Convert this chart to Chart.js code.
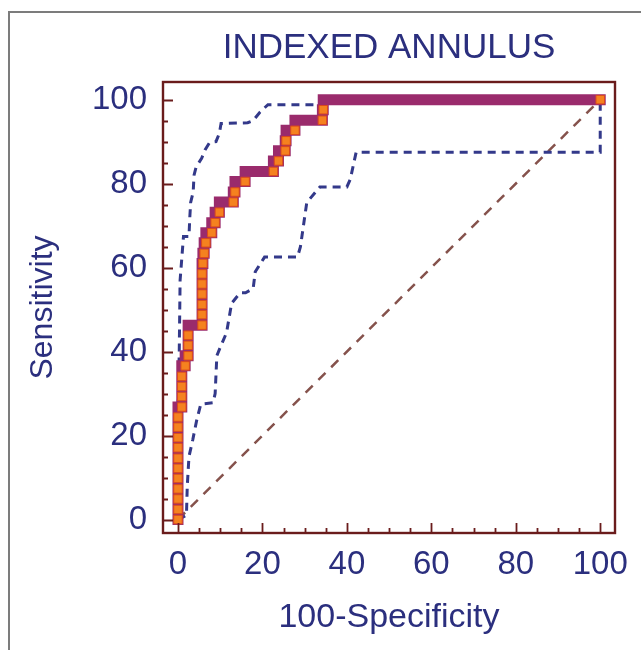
<!DOCTYPE html>
<html lang="en">
<head>
<meta charset="UTF-8">
<title>Indexed Annulus ROC</title>
<script src="https://cdn.jsdelivr.net/npm/chart.js"></script>
<style>
  body { margin: 0; background: #fff; }
  canvas { display: block; }
</style>
</head>
<body>
<canvas id="rocChart" width="641" height="650"></canvas>
<script>
  // ROC curve: 100-Specificity (x) and Sensitivity (y)
  const rocX = [0, 0, 0, 0, 0, 0, 0, 0, 0, 0, 0,
                0.9, 0.9, 0.9, 0.9, 1.7, 2.4, 2.4, 2.4,
                5.7, 5.7, 5.7, 5.7, 5.7, 5.7, 5.9, 6.2, 6.6, 8.0, 8.8, 9.8,
                13.1, 13.5, 15.9, 22.6, 23.8, 25.4, 25.6, 27.7, 34.2, 34.4, 100];
  const rocY = [0, 2.4, 4.9, 7.3, 9.8, 12.2, 14.6, 17.1, 19.5, 22.0, 24.4,
                26.8, 29.3, 31.7, 34.1, 36.6, 39.0, 41.5, 43.9,
                46.3, 48.8, 51.2, 53.7, 56.1, 58.5, 61.0, 63.4, 65.9, 68.3, 70.7, 73.2,
                75.6, 78.0, 80.5, 82.9, 85.4, 87.8, 90.2, 92.7, 95.1, 97.6, 100];

  // upper and lower confidence bounds
  const upperX = [0, 0, 0.3, 0.5, 1.3, 2.6, 2.8, 3.0, 3.6, 3.8, 4.3, 5.6, 6.4, 7.5, 9.0, 9.8, 10.2,
                  16.5, 17.8, 19.4, 21.3, 33.0, 34.5, 100];
  const upperY = [0, 25, 40, 57, 67.4, 67.4, 72, 75.5, 78, 82, 84, 86, 88, 89.8, 90, 92, 94.3,
                  94.5, 95, 97, 98.8, 98.8, 100, 100];
  const lowerX = [0, 2.0, 2.2, 2.6, 3.5, 4.4, 5.4, 8.3, 8.8, 9.2, 10.0, 11.5, 12.7, 14.7, 16.0,
                  17.8, 18.3, 20.5, 28.3, 29.0, 30.5, 33.6, 40.0, 40.8, 42.2, 100, 100];
  const lowerY = [0, 1.0, 8.0, 15.0, 19.0, 23.5, 27.5, 27.8, 30.0, 39.0, 41.0, 44.5, 51.5, 54.0, 54.0,
                  55.0, 59.0, 62.5, 62.5, 65.0, 75.5, 79.2, 79.2, 81.0, 87.5, 87.5, 100];

  // chance line
  const diagX = [0, 100];
  const diagY = [0, 100];

  const xTickLabels = [0, 20, 40, 60, 80, 100];
  const yTickLabels = [0, 20, 40, 60, 80, 100];

  const toPoints = (xs, ys) => xs.map((x, i) => ({ x: x, y: ys[i] }));

  const navy = '#2b2f7e';
  const frameColor = '#6a1c1c';
  const family = '"Liberation Sans", Arial, sans-serif';

  // outer box, frame round the plot and inward tick marks
  const framePlugin = {
    id: 'frame',
    beforeDraw(chart) {
      const ctx = chart.ctx;
      ctx.save();
      ctx.strokeStyle = '#7c7c7c';
      ctx.lineWidth = 2;
      ctx.strokeRect(9, 12, 700, 700);
      ctx.restore();
    },
    afterDatasetsDraw(chart) {
      const { ctx, chartArea: a, scales } = chart;
      ctx.save();
      ctx.strokeStyle = frameColor;
      ctx.lineWidth = 2.4;
      ctx.strokeRect(a.left, a.top, a.right - a.left, a.bottom - a.top);
      ctx.lineWidth = 1.8;
      ctx.beginPath();
      for (let v = 0; v <= 100; v += 5) {
        const len = v % 20 === 0 ? 10 : 5;
        const px = Math.round(scales.x.getPixelForValue(v)) + 0.5;
        ctx.moveTo(px, a.bottom);
        ctx.lineTo(px, a.bottom - len);
        const py = Math.round(scales.y.getPixelForValue(v)) + 0.5;
        ctx.moveTo(a.left, py);
        ctx.lineTo(a.left + len, py);
      }
      ctx.stroke();
      ctx.restore();
    }
  };

  new Chart(document.getElementById('rocChart'), {
    type: 'scatter',
    data: {
      datasets: [{
        label: 'ROC',
        data: toPoints(rocX, rocY),
        showLine: true,
        stepped: 'after',
        borderColor: '#9a2b6c',
        borderWidth: 11,
        borderJoinStyle: 'miter',
        borderCapStyle: 'square',
        pointStyle: 'rect',
        pointRadius: 6,
        pointBackgroundColor: '#f5821f',
        pointBorderColor: '#dc4a1c',
        pointBorderWidth: 1,
        order: 0
      }, {
        label: 'Upper',
        data: toPoints(upperX, upperY),
        showLine: true,
        borderColor: '#33398a',
        borderWidth: 3,
        borderDash: [8, 6],
        pointRadius: 0,
        order: 1
      }, {
        label: 'Lower',
        data: toPoints(lowerX, lowerY),
        showLine: true,
        borderColor: '#33398a',
        borderWidth: 3,
        borderDash: [8, 6],
        pointRadius: 0,
        order: 1
      }, {
        label: 'Chance',
        data: toPoints(diagX, diagY),
        showLine: true,
        borderColor: '#85524c',
        borderWidth: 2.5,
        borderDash: [10, 8],
        pointRadius: 0,
        order: 2
      }]
    },
    options: {
      responsive: false,
      animation: false,
      events: [],
      layout: { padding: { left: 20, right: 26, top: 0, bottom: 0 } },
      plugins: {
        legend: { display: false },
        tooltip: { enabled: false },
        title: {
          display: true,
          text: 'INDEXED ANNULUS',
          fullSize: false,
          color: navy,
          font: { family: family, size: 35, weight: 'normal' },
          padding: { top: 27, bottom: 13 }
        }
      },
      scales: {
        x: {
          type: 'linear',
          min: -3.55,
          max: 103.5,
          afterBuildTicks: s => { s.ticks = xTickLabels.map(v => ({ value: v })); },
          afterFit: s => { s.height = 117; },
          grid: { display: false, drawTicks: false },
          border: { display: false },
          ticks: { color: navy, font: { family: family, size: 33 }, padding: 12, maxRotation: 0 },
          title: {
            display: true,
            text: '100-Specificity',
            color: navy,
            font: { family: family, size: 34 },
            padding: { top: 0, bottom: 12 }
          }
        },
        y: {
          type: 'linear',
          min: -3.2,
          max: 104.2,
          afterBuildTicks: s => { s.ticks = yTickLabels.map(v => ({ value: v })); },
          afterFit: s => { s.width = 143; },
          grid: { display: false, drawTicks: false },
          border: { display: false },
          ticks: { color: navy, font: { family: family, size: 33 }, padding: 16 },
          title: {
            display: true,
            text: 'Sensitivity',
            color: navy,
            font: { family: family, size: 32 },
            padding: { top: 4, bottom: 4 }
          }
        }
      }
    },
    plugins: [framePlugin]
  });
</script>
</body>
</html>
